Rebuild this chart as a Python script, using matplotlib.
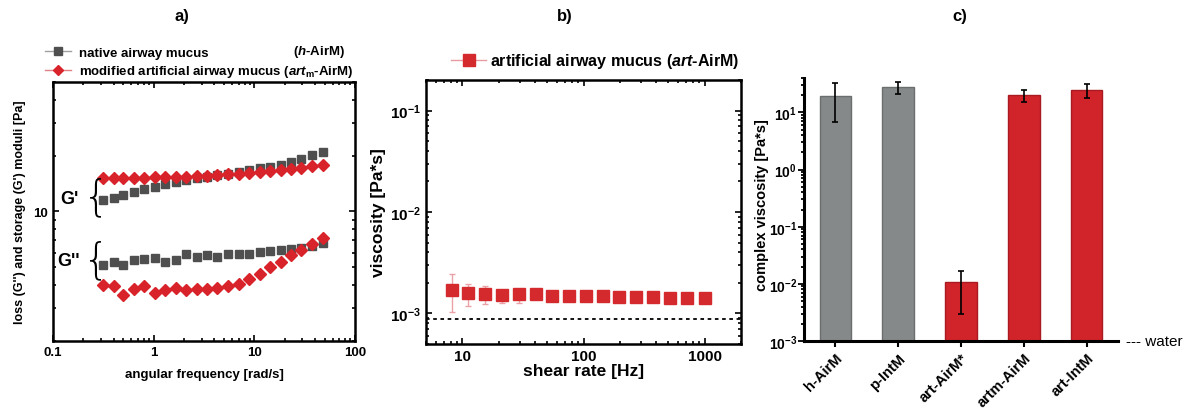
import numpy as np
import matplotlib.pyplot as plt
from matplotlib.lines import Line2D
from matplotlib.ticker import LogLocator, NullFormatter, FuncFormatter, FixedLocator

plt.rcParams['font.family'] = ['Liberation Sans', 'DejaVu Sans']
plt.rcParams['font.weight'] = 'bold'
plt.rcParams['axes.labelweight'] = 'bold'
plt.rcParams['mathtext.fontset'] = 'custom'
plt.rcParams['mathtext.rm'] = 'Liberation Sans:bold'
plt.rcParams['mathtext.bf'] = 'Liberation Sans:bold'
plt.rcParams['mathtext.it'] = 'Liberation Sans:bold:italic'

# ---- panel a: oscillatory frequency sweep
freq = [0.314, 0.40, 0.50, 0.64, 0.81, 1.03, 1.31, 1.66, 2.11, 2.68, 3.4,
        4.3, 5.5, 7.0, 8.9, 11.3, 14.3, 18.2, 23.1, 29.4, 37.3, 48.0]
g1_native = [11.5, 11.9, 12.2, 12.7, 13.2, 13.6, 14.0, 14.5, 14.8, 15.1, 15.4,
             15.7, 16.0, 16.4, 16.7, 17.1, 17.4, 17.9, 18.6, 19.3, 20.2, 21.0]
g1_artm = [15.1, 15.1, 15.2, 15.2, 15.2, 15.3, 15.3, 15.4, 15.4, 15.5, 15.6,
           15.7, 15.9, 16.0, 16.2, 16.4, 16.6, 16.8, 17.0, 17.2, 17.5, 17.9]
g2_native = [5.13, 5.35, 5.13, 5.45, 5.52, 5.62, 5.35, 5.45, 5.93, 5.69, 5.80,
             5.69, 5.93, 5.93, 5.93, 6.05, 6.13, 6.18, 6.25, 6.36, 6.50, 6.77]
g2_artm = [4.0, 3.95, 3.53, 3.83, 3.95, 3.63, 3.79, 3.88, 3.79, 3.83, 3.83,
           3.88, 3.95, 4.08, 4.34, 4.62, 5.03, 5.35, 5.80, 6.18, 6.71, 7.23]

# ---- panel b: steady shear viscosity
shear = [8.2, 11.2, 15.5, 21.2, 29.4, 40.4, 55.3, 76, 105, 144, 198, 273,
         375, 516, 718, 1000]
visc = [1.72e-3, 1.60e-3, 1.55e-3, 1.515e-3, 1.54e-3, 1.54e-3, 1.49e-3, 1.49e-3,
        1.47e-3, 1.47e-3, 1.45e-3, 1.45e-3, 1.45e-3, 1.43e-3, 1.43e-3, 1.43e-3]
visc_hi = [2.44e-3, 1.97e-3, 1.85e-3, 1.68e-3, 1.65e-3, 1.57e-3, 1.52e-3, 1.52e-3,
           1.50e-3, 1.50e-3, 1.48e-3, 1.48e-3, 1.48e-3, 1.46e-3, 1.46e-3, 1.46e-3]
visc_lo = [1.04e-3, 1.19e-3, 1.23e-3, 1.27e-3, 1.28e-3, 1.50e-3, 1.46e-3, 1.46e-3,
           1.44e-3, 1.44e-3, 1.42e-3, 1.42e-3, 1.42e-3, 1.40e-3, 1.40e-3, 1.40e-3]
water_visc = 8.9e-4

# ---- panel c: complex viscosity
samples = ['h-AirM', 'p-IntM', 'art-AirM*', 'artm-AirM', 'art-IntM']
cvisc = [19.0, 27.5, 0.0098, 20.0, 25.0]
cvisc_hi = [33.0, 34.0, 0.017, 25.0, 32.0]
cvisc_lo = [6.7, 20.6, 0.003, 15.5, 18.0]
bar_colors = ['#86898a', '#86898a', '#d1232a', '#d1232a', '#d1232a']
edge_colors = ['#6b6e6e', '#6b6e6e', '#a91b21', '#a91b21', '#a91b21']

GRAY = '#4f4f4f'
RED = '#d8232a'

fig = plt.figure(figsize=(11.89, 4.10), dpi=100)


def frame(ax, lw=1.8):
    for s in ax.spines.values():
        s.set_linewidth(lw)


def pow10(v, p):
    return r'$\mathrm{10^{%d}}$' % round(np.log10(v))


# ================= a)
ax1 = fig.add_axes([53/1189, 68/410, 302/1189, 259/410])
ax1.plot(freq, g1_native, 's', color=GRAY, ms=6.2, ls='none')
ax1.plot(freq, g2_native, 's', color=GRAY, ms=6.2, ls='none')
ax1.plot(freq, g1_artm, 'D', color=RED, ms=6.2, ls='none')
ax1.plot(freq, g2_artm, 'D', color=RED, ms=6.2, ls='none')
ax1.set_xscale('log')
ax1.set_yscale('log')
ax1.set_xlim(0.1, 100)
ax1.set_ylim(2, 50)
ax1.set_xticks([0.1, 1, 10, 100])
ax1.set_xticklabels(['0.1', '1', '10', '100'])
ax1.yaxis.set_major_locator(FixedLocator([10]))
ax1.set_yticklabels(['10'])
ax1.yaxis.set_minor_locator(LogLocator(subs=np.arange(2, 10)))
ax1.yaxis.set_minor_formatter(NullFormatter())
ax1.tick_params(which='both', direction='in', top=True, right=True, labelsize=9.5, width=1.2)
ax1.tick_params(which='major', length=4)
ax1.tick_params(which='minor', length=2)
frame(ax1)
ax1.set_xlabel('angular frequency [rad/s]', fontsize=9.5, labelpad=7)
ax1.set_ylabel("loss (G'') and storage (G') moduli [Pa]", fontsize=9, labelpad=5)
ax1.text(0.025, 0.55, "G'", transform=ax1.transAxes, fontsize=13, va='center')
ax1.text(0.1, 0.555, '{', transform=ax1.transAxes, fontsize=30, va='center',
         fontweight='light', family='DejaVu Sans')
ax1.text(0.015, 0.31, "G''", transform=ax1.transAxes, fontsize=13, va='center')
ax1.text(0.1, 0.315, '{', transform=ax1.transAxes, fontsize=30, va='center',
         fontweight='light', family='DejaVu Sans')

h_nat = Line2D([0], [0], color='#a0a0a0', lw=1, marker='s', ms=5.5,
               mfc=GRAY, mec=GRAY)
h_art = Line2D([0], [0], color='#e07f84', lw=1, marker='D', ms=5.5,
               mfc=RED, mec=RED)
ax1.legend([h_nat, h_art],
           ['native airway mucus',
            r'modified artificial airway mucus ($\mathit{art}_{\mathrm{m}}$-AirM)'],
           loc='lower left', bbox_to_anchor=(-0.045, 0.99), frameon=False,
           handlelength=2.0, handletextpad=0.6, labelspacing=0.35,
           borderaxespad=0, prop={'size': 9.5, 'weight': 'bold'})
fig.text(293/1189, 1 - 52/410, r'($\mathit{h}$-AirM)', fontsize=9.5, va='center')

# ================= b)
ax2 = fig.add_axes([426/1189, 65/410, 315/1189, 264/410])
ax2.errorbar(shear, visc,
             yerr=[np.array(visc) - np.array(visc_lo), np.array(visc_hi) - np.array(visc)],
             fmt='s', color='#d42a2e', ms=8, ecolor='#eba2a6', elinewidth=1,
             capsize=2.5, capthick=1)
ax2.axhline(water_visc, color='black', ls=(0, (2, 2)), lw=1.3)
ax2.set_xscale('log')
ax2.set_yscale('log')
ax2.set_xlim(5, 2000)
ax2.set_ylim(5e-4, 0.2)
ax2.set_xticks([10, 100, 1000])
ax2.set_xticklabels(['10', '100', '1000'])
ax2.yaxis.set_major_locator(FixedLocator([1e-3, 1e-2, 1e-1]))
ax2.yaxis.set_major_formatter(FuncFormatter(pow10))
ax2.xaxis.set_minor_formatter(NullFormatter())
ax2.yaxis.set_minor_formatter(NullFormatter())
ax2.tick_params(which='both', direction='in', top=True, right=True, labelsize=11, width=1.2)
ax2.tick_params(which='major', length=4)
ax2.tick_params(which='minor', length=2)
frame(ax2)
ax2.set_xlabel('shear rate [Hz]', fontsize=12.5, labelpad=0)
ax2.set_ylabel('viscosity [Pa*s]', fontsize=12.5, labelpad=3)
h_b = Line2D([0], [0], color='#e89aa0', lw=1, marker='s', ms=8,
             mfc='#d42a2e', mec='#d42a2e')
ax2.legend([h_b], [r'artificial airway mucus ($\mathit{art}$-AirM)'],
           loc='center left', bbox_to_anchor=(0.06, 1.072), frameon=False,
           handlelength=2.2, handletextpad=0.2, borderaxespad=0,
           prop={'size': 11.5, 'weight': 'bold'})

# ================= c)
ax3 = fig.add_axes([804/1189, 68/410, 314/1189, 263/410])
xpos = np.arange(len(samples))
ax3.bar(xpos, cvisc, width=0.5, color=bar_colors, edgecolor=edge_colors,
        linewidth=1, bottom=1e-3)
ax3.errorbar(xpos, cvisc,
             yerr=[np.array(cvisc) - np.array(cvisc_lo), np.array(cvisc_hi) - np.array(cvisc)],
             fmt='none', ecolor='black', elinewidth=1.2, capsize=2.5, capthick=1.2)
ax3.set_yscale('log')
ax3.set_ylim(1e-3, 40)
ax3.set_xlim(-0.5, 4.5)
ax3.spines['top'].set_visible(False)
ax3.spines['right'].set_visible(False)
ax3.spines['left'].set_linewidth(2.2)
ax3.spines['bottom'].set_linewidth(2.2)
ax3.yaxis.set_major_locator(FixedLocator([1e-3, 1e-2, 1e-1, 1, 10]))
ax3.yaxis.set_major_formatter(FuncFormatter(pow10))
ax3.yaxis.set_minor_locator(LogLocator(subs=np.arange(2, 10)))
ax3.yaxis.set_minor_formatter(NullFormatter())
ax3.set_xticks(xpos)
ax3.set_xticklabels(samples, rotation=45, ha='right', rotation_mode='anchor', fontsize=10.5)
ax3.tick_params(axis='y', which='both', direction='out', labelsize=10, width=1.3)
ax3.tick_params(axis='y', which='major', length=4, pad=1)
ax3.tick_params(axis='y', which='minor', length=2.2)
ax3.tick_params(axis='x', direction='out', length=4, width=1.5, pad=3)
ax3.text(1.025, 0, '--- water', transform=ax3.transAxes, fontsize=11,
         va='center', ha='left', fontweight='normal')
fig.text(762/1189, 1 - 205/410, 'complex viscosity [Pa*s]', rotation=90,
         fontsize=10.5, va='center', ha='center')

# panel letters
fig.text(182/1189, 1 - 17/410, 'a)', fontsize=12, ha='center', va='center')
fig.text(565/1189, 1 - 17/410, 'b)', fontsize=12, ha='center', va='center')
fig.text(960/1189, 1 - 17/410, 'c)', fontsize=12, ha='center', va='center')

fig.savefig('out.png', dpi=100)
